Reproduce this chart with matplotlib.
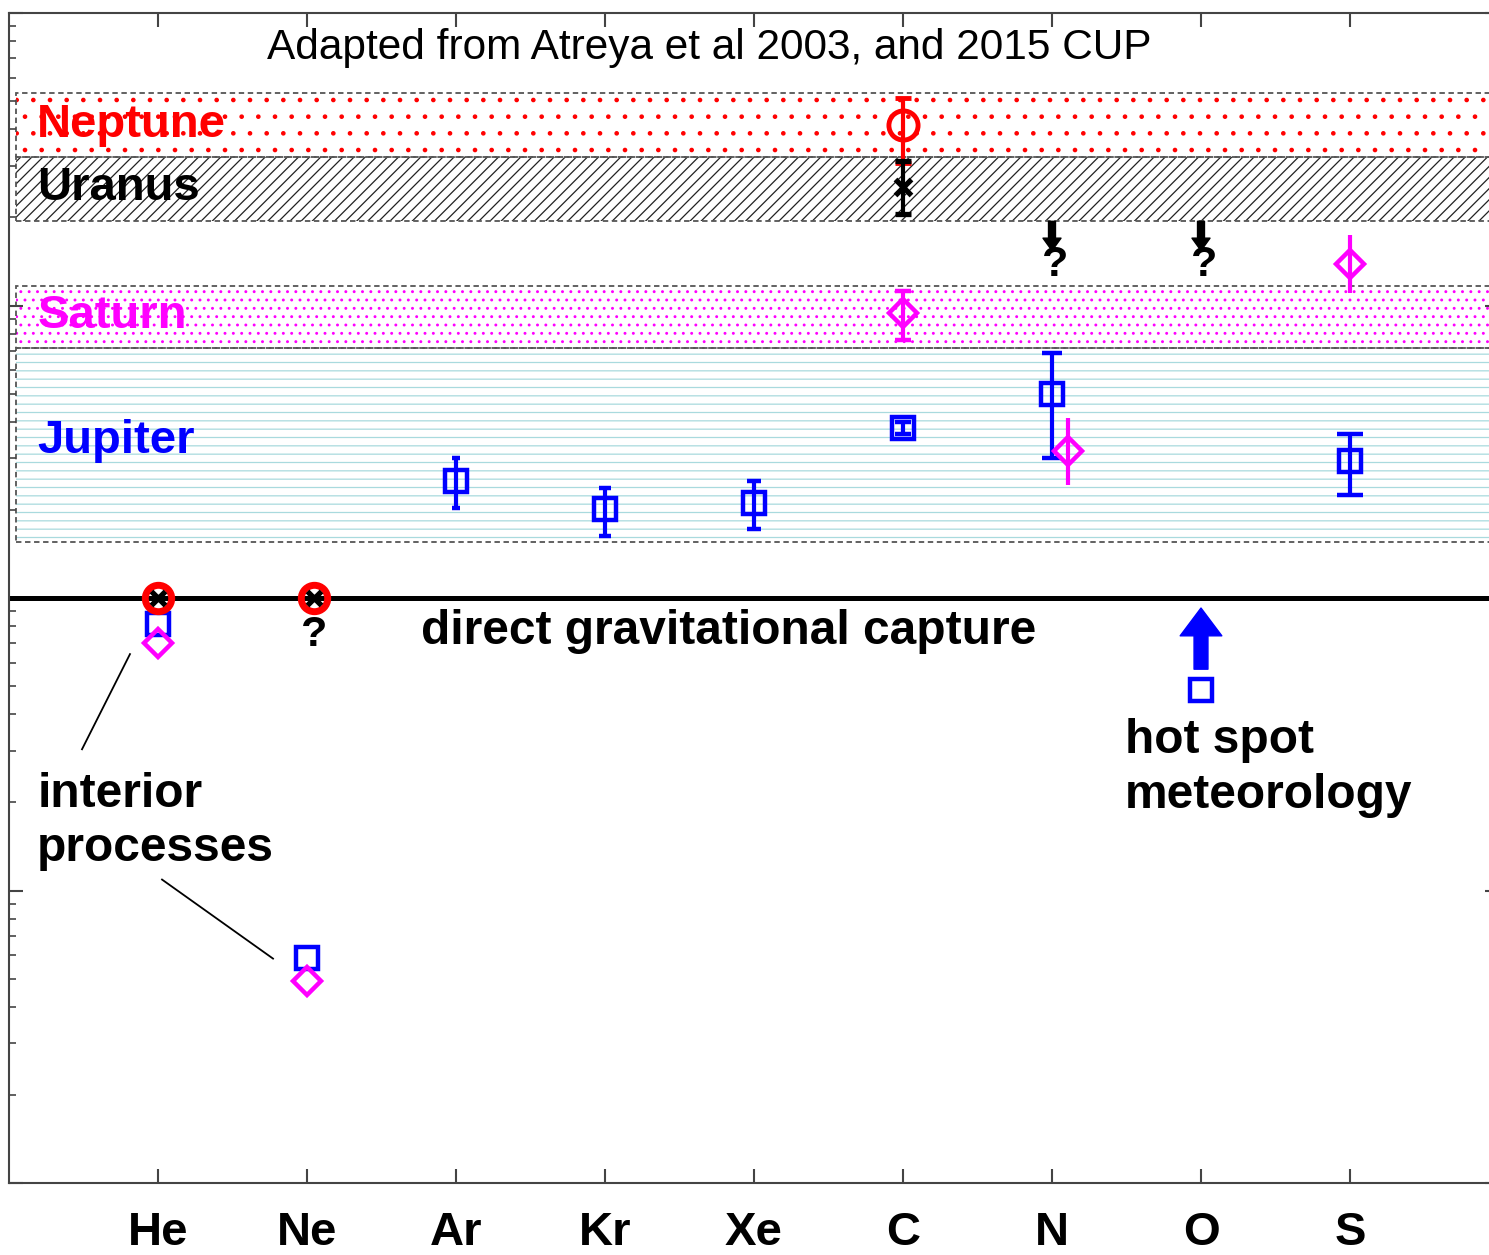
import matplotlib
matplotlib.use('Agg')
import matplotlib.pyplot as plt
from matplotlib.patches import Rectangle
import numpy as np

plt.rcParams['font.family'] = ['Liberation Sans', 'DejaVu Sans']
plt.rcParams['hatch.linewidth'] = 0.9

# elements along the x axis
elements = ['He', 'Ne', 'Ar', 'Kr', 'Xe', 'C', 'N', 'O', 'S']
elem_x = np.arange(1, 10)

# enrichment relative to solar, value and error range (lo, hi)
jup_x = [1, 2, 3, 4, 5, 6, 7, 8, 9]
jup_val = [0.815, 0.059, 2.52, 2.02, 2.11, 3.82, 4.99, 0.484, 2.95]
jup_lo = [0.815, 0.059, 2.03, 1.63, 1.72, 3.64, 3.02, 0.484, 2.25]
jup_hi = [0.815, 0.059, 3.02, 2.38, 2.52, 4.00, 6.90, 0.484, 3.64]
jup_cap = [0, 0, 3.2, 4.0, 5.0, 6.0, 7.5, 0, 9.7]

sat_x = [1, 2, 6, 7.11, 9]
sat_val = [0.70, 0.049, 9.4, 3.19, 13.9]
sat_lo = [0.70, 0.049, 7.6, 2.44, 11.0]
sat_hi = [0.70, 0.049, 11.2, 4.13, 17.4]
sat_cap = [0, 0, 6.0, 0, 0]

nep_c, nep_c_lo, nep_c_hi = 41.4, 30.6, 51.1
ura_c, ura_c_lo, ura_c_hi = 25.5, 20.6, 31.3
ice_x = [1, 2.05]
ice_val = [1.0, 1.0]

# shaded ranges per planet (lower, upper)
bands = {
    'Neptune': (32.2, 53.3),
    'Uranus': (19.4, 32.2),
    'Saturn': (7.13, 11.7),
    'Jupiter': (1.555, 7.13),
}
band_style = {
    'Neptune': dict(hatch='.', ec='red'),
    'Uranus': dict(hatch='///', ec='#222222'),
    'Saturn': dict(hatch='..', ec='magenta'),
    'Jupiter': dict(hatch='--', ec='#a9dade'),
}
label_y = {'Neptune': 41.3, 'Uranus': 25.2, 'Saturn': 9.18, 'Jupiter': 3.45}
label_color = {'Neptune': 'red', 'Uranus': 'black', 'Saturn': 'magenta', 'Jupiter': 'blue'}

# upper limits for Uranus/Neptune N and O, Jupiter O hot spot
limit_x = [7, 8]
limit_from, limit_to = 19.4, 15.4
hot_spot_x, hot_spot_from, hot_spot_to = 8, 0.571, 0.924

fig = plt.figure(figsize=(14.89, 12.55), dpi=100)
ax = fig.add_axes([9 / 1489, 1 - 1183 / 1255, 1490 / 1489, 1170 / 1255])
ax.set_yscale('log')
ax.set_xlim(0, 10)
ax.set_ylim(0.01, 100)

for name, (lo, hi) in bands.items():
    st = band_style[name]
    ax.add_patch(Rectangle((0.05, lo), 10.5, hi - lo, facecolor='white',
                           edgecolor=st['ec'], hatch=st['hatch'], lw=0, zorder=1))
    ax.add_patch(Rectangle((0.05, lo), 10.5, hi - lo, fill=False,
                           edgecolor='#555555', lw=1.3, ls=(0, (3, 2)), zorder=1.5))
    ax.text(0.19, label_y[name], name, color=label_color[name], fontsize=34,
            fontweight='bold', va='center', ha='left', zorder=3)

# solar abundance line
ax.axhline(1, color='black', lw=3.6, zorder=2)

# Jupiter
for x, v, lo, hi, cs in zip(jup_x, jup_val, jup_lo, jup_hi, jup_cap):
    ax.errorbar(x, v, yerr=[[v - lo], [hi - v]], fmt='s', ms=15.5, mew=3.2,
                mfc='none', mec='blue', ecolor='blue', elinewidth=3,
                capsize=cs, capthick=3, zorder=4)

# Saturn
for x, v, lo, hi, cs in zip(sat_x, sat_val, sat_lo, sat_hi, sat_cap):
    ax.errorbar(x, v, yerr=[[v - lo], [hi - v]], fmt='D', ms=14, mew=3.2,
                mfc='none', mec='magenta', ecolor='magenta', elinewidth=3,
                capsize=cs, capthick=3, zorder=4)

# Neptune and Uranus carbon
ax.errorbar(6, nep_c, yerr=[[nep_c - nep_c_lo], [nep_c_hi - nep_c]], fmt='o',
            ms=21, mew=3.5, mfc='none', mec='red', ecolor='red', elinewidth=3,
            capsize=6, capthick=3, zorder=4)
ax.errorbar(6, ura_c, yerr=[[ura_c - ura_c_lo], [ura_c_hi - ura_c]], fmt='x',
            ms=12, mew=3.8, color='black', elinewidth=3,
            capsize=6, capthick=3, zorder=4)

# Neptune/Uranus He and Ne on the solar line
ax.plot(ice_x, ice_val, 'o', ms=19, mew=5, mfc='none', mec='red', ls='none', zorder=5)
ax.plot(ice_x, ice_val, 'x', ms=10, mew=3.8, color='black', ls='none', zorder=6)

for x in limit_x:
    ax.annotate('', xy=(x, limit_to), xytext=(x, limit_from),
                arrowprops=dict(width=5, headwidth=13, headlength=9,
                                color='black', shrink=0), zorder=4)
    ax.text(x + 0.02, 13.8, '?', fontsize=31, fontweight='bold',
            ha='center', va='center', zorder=4)

ax.text(2.05, 0.745, '?', fontsize=31, fontweight='bold', ha='center', va='center')

ax.annotate('', xy=(hot_spot_x, hot_spot_to), xytext=(hot_spot_x, hot_spot_from),
            arrowprops=dict(width=10, headwidth=30, headlength=20,
                            color='blue', shrink=0), zorder=4)

ax.text(4.70, 75.9, 'Adapted from Atreya et al 2003, and 2015 CUP',
        fontsize=30.5, ha='center', va='center')
ax.text(2.765, 0.771, 'direct gravitational capture', fontsize=34.5,
        fontweight='bold', ha='left', va='center')
ax.text(7.49, 0.262, 'hot spot\nmeteorology', fontsize=34.5, fontweight='bold',
        ha='left', va='center', linespacing=1.27)
ax.text(0.19, 0.172, 'interior\nprocesses', fontsize=34.5, fontweight='bold',
        ha='left', va='center', linespacing=1.27)

# leader lines to the He and Ne points
ax.plot([0.812, 0.49], [0.643, 0.304], color='black', lw=1.3)
ax.plot([1.027, 1.772], [0.109, 0.0585], color='black', lw=1.3)

ax.set_xticks(elem_x)
ax.set_xticklabels(elements, fontsize=34, fontweight='bold')
ax.tick_params(axis='x', which='major', direction='in', top=True, bottom=True,
               length=10, width=1.5, color='#444444', pad=20)
ax.tick_params(axis='y', which='major', direction='in', left=True, right=True,
               length=10, width=1.5, color='#444444', labelleft=False)
ax.tick_params(axis='y', which='minor', direction='in', left=True, right=True,
               length=5, width=1.2, color='#444444')
ax.yaxis.set_minor_locator(matplotlib.ticker.LogLocator(base=10, subs=np.arange(2, 10)))
for sp in ax.spines.values():
    sp.set_color('#444444')
    sp.set_linewidth(1.5)

fig.savefig('out.png', dpi=100)
